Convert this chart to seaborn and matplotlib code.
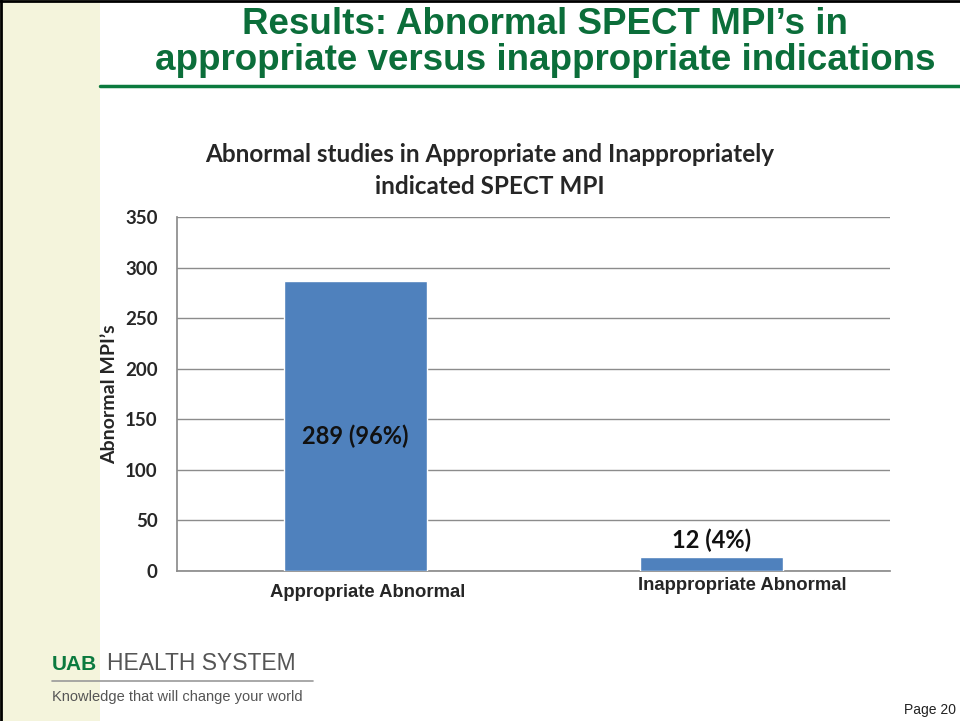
import numpy as np
import pandas as pd
import matplotlib
matplotlib.use("Agg")
import matplotlib.pyplot as plt
import seaborn as sns

# data
categories = ["Appropriate Abnormal", "Inappropriate Abnormal"]
counts = [287, 14]
bar_labels = ["289 (96%)", "12 (4%)"]
label_heights = [133, 30]
yticks = [0, 50, 100, 150, 200, 250, 300, 350]

df = pd.DataFrame({"category": categories, "count": counts})

sns.set_theme(style="white")
plt.rcParams["font.family"] = ["Lato", "DejaVu Sans"]
arial = ["Liberation Sans", "DejaVu Sans"]

fig = plt.figure(figsize=(9.6, 7.21), dpi=100)
fig.patch.set_facecolor("white")

# slide decorations
fig.add_artist(plt.Rectangle((0, 0), 100 / 960, 1, transform=fig.transFigure,
                             facecolor="#f4f4dc", edgecolor="none", zorder=0))
fig.add_artist(plt.Line2D([0.001, 0.001], [0, 1], transform=fig.transFigure,
                          color="black", linewidth=2, zorder=5))
fig.add_artist(plt.Line2D([0, 1], [0.999, 0.999], transform=fig.transFigure,
                          color="black", linewidth=2, zorder=5))
fig.add_artist(plt.Line2D([100 / 960, 1], [1 - 86 / 721, 1 - 86 / 721],
                          transform=fig.transFigure, color="#0b7a3e", linewidth=2.5))

fig.text(545 / 960, 1 - 24 / 721, "Results: Abnormal SPECT MPI\u2019s in", ha="center", va="center",
         fontsize=26.5, fontweight="bold", color="#0b6e3a", family=arial)
fig.text(545 / 960, 1 - 61 / 721, "appropriate versus inappropriate indications", ha="center", va="center",
         fontsize=26.5, fontweight="bold", color="#0b6e3a", family=arial)

# chart
ax = fig.add_axes([177 / 960, 150 / 721, 713 / 960, 354 / 721])
sns.barplot(data=df, x="category", y="count", color="#4f81bd", width=0.4,
            saturation=1, ax=ax, zorder=3)
ax.set_xlim(-0.5, 1.5)
ax.set_ylim(0, 350)
ax.set_yticks(yticks)
ax.set_yticklabels([str(t) for t in yticks], fontsize=13.5, fontweight="bold")
ax.yaxis.grid(True, color="#8c8c8c", linewidth=1, zorder=0)
ax.set_axisbelow(True)
ax.tick_params(axis="y", length=0, pad=14)
ax.tick_params(axis="x", length=0)
for s in ["top", "right"]:
    ax.spines[s].set_visible(False)
ax.spines["left"].set_color("#8c8c8c")
ax.spines["bottom"].set_color("#8c8c8c")

ax.set_xticklabels([])
ax.set_xlabel("")
ax.set_ylabel("Abnormal MPI\u2019s", fontsize=14, fontweight="bold")
ax.yaxis.set_label_coords(-0.083, 0.5)

# category labels sit a little off-centre on the slide
xlab_offsets = [(8.6, -15.8), (21.6, -10.8)]
for i, (c, off) in enumerate(zip(categories, xlab_offsets)):
    ax.annotate(c, xy=(i, 0), xytext=off, textcoords="offset points",
                ha="center", va="center", fontsize=13.3, fontweight="bold",
                family=arial, annotation_clip=False)

for i, (t, h) in enumerate(zip(bar_labels, label_heights)):
    ax.text(i, h, t, ha="center", va="center", fontsize=17, fontweight="bold", color="#111111")

fig.text(490 / 960, 1 - 155 / 721, "Abnormal studies in Appropriate and Inappropriately",
         ha="center", va="center", fontsize=17.5, fontweight="bold")
fig.text(490 / 960, 1 - 187 / 721, "indicated SPECT MPI",
         ha="center", va="center", fontsize=17.5, fontweight="bold")

# footer logo
fig.text(52 / 960, 1 - 664 / 721, "UAB", ha="left", va="center", fontsize=15,
         fontweight="bold", color="#0b7a3e", family=arial)
fig.text(107 / 960, 1 - 664 / 721, "HEALTH SYSTEM", ha="left", va="center", fontsize=16.5,
         color="#555555", family=arial)
fig.add_artist(plt.Line2D([52 / 960, 313 / 960], [1 - 681 / 721, 1 - 681 / 721],
                          transform=fig.transFigure, color="#999999", linewidth=1.2))
fig.text(52 / 960, 1 - 697 / 721, "Knowledge that will change your world", ha="left", va="center",
         fontsize=10.5, color="#555555", family=arial)
fig.text(930 / 960, 1 - 710 / 721, "Page 20", ha="center", va="center", fontsize=10,
         color="#222222", family=arial)

fig.savefig("out.png", dpi=100)
